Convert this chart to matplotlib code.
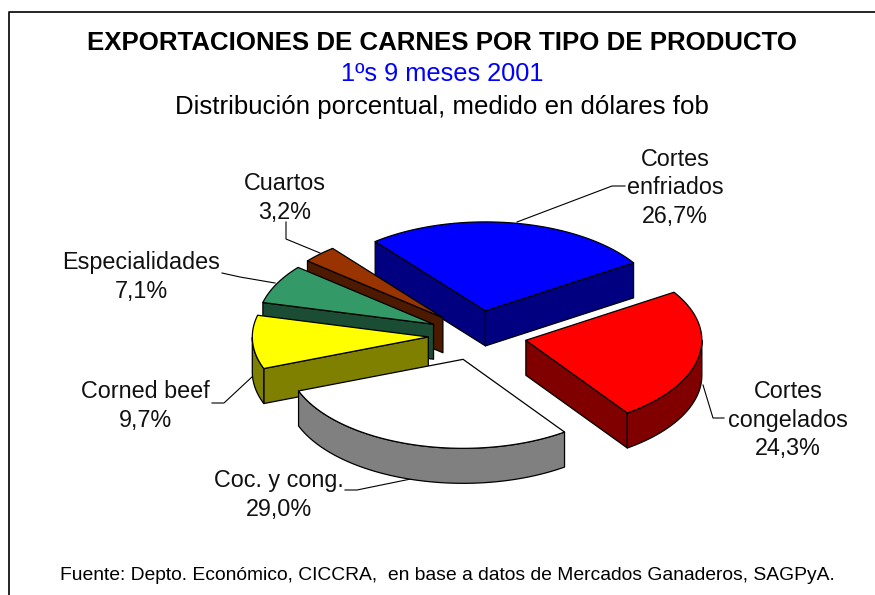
# -*- coding: utf-8 -*-
"""Exploded 3D style pie of meat exports by product type."""

import numpy as np
import matplotlib
matplotlib.use('Agg')
import matplotlib.pyplot as plt
from matplotlib.colors import to_rgb
from matplotlib.patches import Polygon

labels = ['Cortes\nenfriados', 'Cortes\ncongelados', 'Coc. y cong.',
          'Corned beef', 'Especialidades', 'Cuartos']
values = [26.7, 24.3, 29.0, 9.7, 7.1, 3.2]
colors = ['#0000FF', '#FF0000', '#FFFFFF', '#FFFF00', '#339966', '#993300']

title = 'EXPORTACIONES DE CARNES POR TIPO DE PRODUCTO'
subtitle = '1ºs 9 meses 2001'
subtitle2 = 'Distribución porcentual, medido en dólares fob'
source = 'Fuente: Depto. Económico, CICCRA,  en base a datos de Mercados Ganaderos, SAGPyA.'

# pie geometry in image pixels
cx, cy = 477.5, 335.5
rx, ry = 176, 89
depth = 35
explode = 0.28
start = 128.8
draw_order = [0, 5, 4, 3, 1, 2]

label_pos = [(675, 188), (788, 420), (279, 495), (145, 406), (141, 277), (285, 198)]
leaders = [[(517, 222), (612, 186), (625, 186)],
           [(703, 385), (713, 418), (724, 418)],
           [(440, 473), (357, 490), (345, 490)],
           [(253, 376), (224, 403), (212, 403)],
           [(275, 283), (240, 277), (222, 273)],
           [(320, 253), (286, 239), (286, 222)]]

plt.rcParams['font.family'] = ['Liberation Sans', 'DejaVu Sans']

fig = plt.figure(figsize=(8.75, 5.95), dpi=100)
ax = fig.add_axes([0, 0, 1, 1])
ax.set_xlim(0, 875)
ax.set_ylim(595, 0)
ax.axis('off')


def project(x0, y0, t):
    return np.column_stack([x0 + rx * np.cos(np.radians(t)),
                            y0 - ry * np.sin(np.radians(t))])


def add_face(pts, col):
    ax.add_patch(Polygon(pts, closed=True, facecolor=col, edgecolor='black',
                         linewidth=0.9, joinstyle='round'))


def draw_slice(t1, t2, col):
    mid = (t1 + t2) / 2
    x0 = cx + explode * rx * np.cos(np.radians(mid))
    y0 = cy - explode * ry * np.sin(np.radians(mid))
    dark = tuple(c * 0.5 for c in to_rgb(col))
    arc = project(x0, y0, np.linspace(t1, t2, 100))
    apex = np.array([[x0, y0]])
    down = np.array([0, depth])
    # cut faces that look towards the viewer
    if np.sin(np.radians(t1 + 90)) < 0:
        add_face(np.vstack([apex, arc[:1], arc[:1] + down, apex + down]), dark)
    if np.sin(np.radians(t2 - 90)) < 0:
        add_face(np.vstack([apex, arc[-1:], arc[-1:] + down, apex + down]), dark)
    # outer rim, only the part on the front half
    front = np.sin(np.radians(np.linspace(t1, t2, 100))) < 0
    if front.any():
        rim = arc[front]
        add_face(np.vstack([rim, (rim + down)[::-1]]), dark)
    add_face(np.vstack([apex, arc]), col)


edges = start - np.cumsum([0] + values) * 3.6
for i in draw_order:
    draw_slice(edges[i], edges[i + 1], colors[i])

for pts in leaders:
    xs, ys = zip(*pts)
    ax.plot(xs, ys, color='black', lw=0.8, zorder=0.5)

for name, val, (x, y) in zip(labels, values, label_pos):
    txt = name + '\n' + ('%.1f%%' % val).replace('.', ',')
    ax.text(x, y, txt, ha='center', va='center', fontsize=16.8, linespacing=1.3,
            color='#111111')

ax.text(442, 43, title, ha='center', va='center', fontsize=18.6, fontweight='bold')
ax.text(442, 74, subtitle, ha='center', va='center', fontsize=18.3, color='#0000FF')
ax.text(442, 107, subtitle2, ha='center', va='center', fontsize=18.6)
ax.text(447, 576, source, ha='center', va='center', fontsize=13.9)

# chart frame, cut by the image on the right and bottom
ax.plot([9, 9, 875], [595, 12, 12], color='black', lw=1.2)

fig.savefig('out.png', dpi=100)
